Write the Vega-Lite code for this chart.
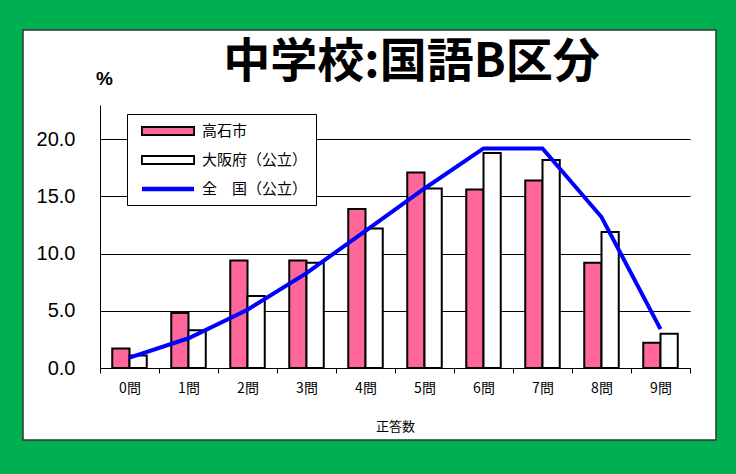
{
  "$schema": "https://vega.github.io/schema/vega-lite/v6.json",
  "width": 693,
  "height": 410,
  "autosize": {"type": "none"},
  "padding": {"left": 23, "top": 30, "right": 20, "bottom": 34},
  "background": "#00B050",
  "view": {"fill": "#FFFFFF", "stroke": "#333333", "strokeWidth": 1.5},
  "title": {
    "text": "中学校:国語B区分",
    "font": "Noto Sans CJK JP",
    "fontWeight": "bold",
    "fontSize": 47,
    "color": "#000000",
    "anchor": "middle",
    "frame": "group",
    "baseline": "middle",
    "offset": 0,
    "dx": 42,
    "dy": 80
  },
  "data": {
    "values": [
      {"cat": "0問", "series": "高石市", "value": 1.7},
      {"cat": "1問", "series": "高石市", "value": 4.8},
      {"cat": "2問", "series": "高石市", "value": 9.4},
      {"cat": "3問", "series": "高石市", "value": 9.4},
      {"cat": "4問", "series": "高石市", "value": 13.9},
      {"cat": "5問", "series": "高石市", "value": 17.1},
      {"cat": "6問", "series": "高石市", "value": 15.6},
      {"cat": "7問", "series": "高石市", "value": 16.4},
      {"cat": "8問", "series": "高石市", "value": 9.2},
      {"cat": "9問", "series": "高石市", "value": 2.2},
      {"cat": "0問", "series": "大阪府（公立）", "value": 1.1},
      {"cat": "1問", "series": "大阪府（公立）", "value": 3.3},
      {"cat": "2問", "series": "大阪府（公立）", "value": 6.3},
      {"cat": "3問", "series": "大阪府（公立）", "value": 9.2},
      {"cat": "4問", "series": "大阪府（公立）", "value": 12.2},
      {"cat": "5問", "series": "大阪府（公立）", "value": 15.7},
      {"cat": "6問", "series": "大阪府（公立）", "value": 18.8},
      {"cat": "7問", "series": "大阪府（公立）", "value": 18.2},
      {"cat": "8問", "series": "大阪府（公立）", "value": 11.9},
      {"cat": "9問", "series": "大阪府（公立）", "value": 3.0},
      {"cat": "0問", "series": "全　国（公立）", "value": 0.9},
      {"cat": "1問", "series": "全　国（公立）", "value": 2.6},
      {"cat": "2問", "series": "全　国（公立）", "value": 5.1},
      {"cat": "3問", "series": "全　国（公立）", "value": 8.3},
      {"cat": "4問", "series": "全　国（公立）", "value": 12.0},
      {"cat": "5問", "series": "全　国（公立）", "value": 15.7},
      {"cat": "6問", "series": "全　国（公立）", "value": 19.2},
      {"cat": "7問", "series": "全　国（公立）", "value": 19.2},
      {"cat": "8問", "series": "全　国（公立）", "value": 13.2},
      {"cat": "9問", "series": "全　国（公立）", "value": 3.4}
    ]
  },
  "encoding": {
    "x": {
      "field": "cat",
      "type": "nominal",
      "scale": {
        "domain": ["0問", "1問", "2問", "3問", "4問", "5問", "6問", "7問", "8問", "9問"],
        "range": [77, 667],
        "paddingInner": 0,
        "paddingOuter": 0
      },
      "axis": {
        "orient": "bottom",
        "offset": -72,
        "labelAngle": 0,
        "labelFont": "Noto Sans CJK JP",
        "labelFontSize": 14,
        "labelColor": "#000000",
        "labelPadding": 8,
        "tickBand": "extent",
        "tickSize": 5,
        "tickColor": "#000000",
        "domainColor": "#000000",
        "domainWidth": 1,
        "grid": false,
        "title": "正答数",
        "titleFont": "Noto Sans CJK JP",
        "titleFontSize": 13,
        "titleFontWeight": "normal",
        "titleColor": "#000000",
        "titlePadding": 25
      }
    },
    "y": {
      "field": "value",
      "type": "quantitative",
      "scale": {"domain": [0, 23], "range": [338, 75], "nice": false},
      "axis": {
        "orient": "left",
        "offset": -77,
        "values": [0, 5, 10, 15, 20],
        "format": ".1f",
        "labelFont": "Liberation Sans",
        "labelFontSize": 20,
        "labelColor": "#000000",
        "labelPadding": 25,
        "ticks": false,
        "tickSize": 0,
        "domainColor": "#000000",
        "domainWidth": 1,
        "grid": true,
        "gridColor": "#000000",
        "gridWidth": 1,
        "title": "%",
        "titleAngle": 0,
        "titleX": 4,
        "titleY": 48,
        "titleAlign": "center",
        "titleBaseline": "middle",
        "titleFont": "Liberation Sans",
        "titleFontSize": 19,
        "titleFontWeight": "bold",
        "titleColor": "#000000"
      }
    }
  },
  "layer": [
    {
      "transform": [{"filter": "datum.series !== '全　国（公立）'"}],
      "mark": {"type": "bar", "stroke": "#000000", "strokeWidth": 2},
      "encoding": {
        "xOffset": {
          "field": "series",
          "type": "nominal",
          "scale": {"domain": ["高石市", "大阪府（公立）"], "paddingInner": 0, "paddingOuter": 0.71}
        },
        "opacity": {
          "field": "series",
          "type": "nominal",
          "scale": {
            "domain": ["大阪府（公立）", "高石市", "全　国（公立）"],
            "range": [1, 1, 0]
          },
          "legend": {
            "title": null,
            "orient": "none",
            "legendX": 104,
            "legendY": 84,
            "direction": "vertical",
            "zindex": 0,
            "fillColor": "#FFFFFF",
            "strokeColor": "#000000",
            "padding": 8,
            "rowPadding": 12,
            "symbolType": {"expr": "datum.value === '全　国（公立）' ? 'M-0.01,-0.01H0.01V0.01H-0.01Z' : 'M-3.12,-0.58H3.12V0.58H-3.12Z'"},
            "symbolSize": 300,
            "symbolOffset": 24,
            "symbolFillColor": "#000000",
            "symbolStrokeWidth": 0,
            "labelOffset": 25,
            "labelFont": "Noto Sans CJK JP",
            "labelFontSize": 15,
            "labelColor": "#000000",
            "labelOpacity": 0,
            "labelLimit": 300
          }
        },
        "color": {
          "field": "series",
          "type": "nominal",
          "scale": {
            "domain": ["高石市", "大阪府（公立）", "全　国（公立）"],
            "range": ["#FF6699", "#FFFFFF", "#0000FF"]
          },
          "legend": {
            "title": null,
            "orient": "none",
            "legendX": 104,
            "legendY": 84,
            "direction": "vertical",
            "zindex": 1,
            "padding": 8,
            "rowPadding": 12,
            "symbolType": {"expr": "datum.value === '全　国（公立）' ? 'M-3,-0.25H3V0.25H-3Z' : 'M-2.9,-0.35H2.9V0.35H-2.9Z'"},
            "symbolSize": 300,
            "symbolOffset": 24,
            "symbolStrokeWidth": 0,
            "labelOffset": 25,
            "labelFont": "Noto Sans CJK JP",
            "labelFontSize": 15,
            "labelColor": "#000000",
            "labelLimit": 300
          }
        }
      }
    },
    {
      "transform": [{"filter": "datum.series === '全　国（公立）'"}],
      "mark": {"type": "line", "strokeWidth": 4},
      "encoding": {
        "color": {"field": "series", "type": "nominal", "legend": null}
      }
    }
  ]
}
